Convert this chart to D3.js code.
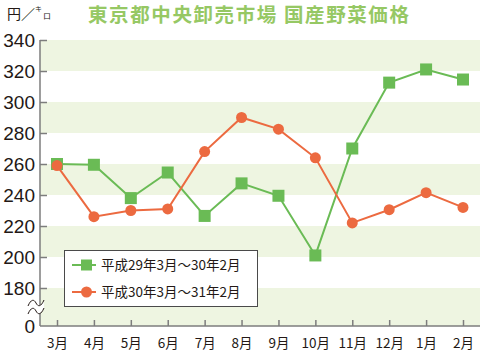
<!DOCTYPE html>
<html><head><meta charset="utf-8">
<script src="https://cdn.jsdelivr.net/npm/d3@7"></script>
<style>body{margin:0;background:#fff}svg{display:block}</style>
</head><body>
<svg id="c" width="480" height="353"></svg>
<script>
const months = ["3月","4月","5月","6月","7月","8月","9月","10月","11月","12月","1月","2月"];
const h29 = [260, 259.5, 238, 254.5, 226.5, 247.5, 239.5, 201, 270, 312.5, 321, 314.5];
const h30 = [259, 226, 230, 231, 268, 290, 282.5, 264, 222, 230.5, 241.5, 232];
const yTicks = [180, 200, 220, 240, 260, 280, 300, 320, 340];
const seriesNames = ["平成29年3月～30年2月", "平成30年3月～31年2月"];
const bands = [[320,340],[280,300],[240,260],[200,220]];

const svg = d3.select("#c");
const font = "'Noto Sans CJK JP','Liberation Sans',sans-serif";
const axisX = 40, baseY = 326, rightX = 480;
const x = d3.scalePoint().domain(months).range([57, 463]);
const y = d3.scaleLinear().domain([180, 340]).range([288, 40]);
const green = "#6abb55", orange = "#ec6a40", bandCol = "#eef5e1", axisCol = "#7d7d7d", txt = "#231815";

// bands
svg.selectAll("rect.band").data(bands).join("rect")
  .attr("x", axisX).attr("width", rightX - axisX)
  .attr("y", d => y(d[1])).attr("height", d => y(d[0]) - y(d[1]))
  .attr("fill", bandCol);
svg.append("rect").attr("x", axisX).attr("width", rightX - axisX)
  .attr("y", y(180)).attr("height", baseY - y(180)).attr("fill", bandCol);

// y axis
const yAxis = d3.axisLeft(y).tickValues(yTicks).tickSize(-7).tickPadding(12);
const gy = svg.append("g").attr("transform", `translate(${axisX},0)`).call(yAxis);
gy.select(".domain").remove();
gy.selectAll(".tick line").attr("stroke", axisCol).attr("stroke-width", 1.5);
gy.selectAll(".tick text").attr("font-family", "'Liberation Sans',Arial,sans-serif").attr("font-size", 19).attr("fill", txt).attr("dy", "0.35em").attr("x", -5);
svg.append("line").attr("x1", axisX).attr("x2", axisX).attr("y1", y(340)).attr("y2", baseY).attr("stroke", axisCol).attr("stroke-width", 1.5);
svg.append("text").attr("x", 35).attr("y", baseY).attr("dy", "0.35em").attr("text-anchor", "end")
  .attr("font-family", "'Liberation Sans',Arial,sans-serif").attr("font-size", 19).attr("fill", txt).text("0");

// break symbol
const wave = (yy) => `M28,${yy+3} C31,${yy-4} 34,${yy-4} 36,${yy} S41,${yy+4} 44,${yy-3}`;
svg.append("path").attr("d", `M28,306 C31,299 34,299 36,303 S41,307 44,300 L44,308 C41,315 38,315 36,311 S31,307 28,314 Z`).attr("fill", "#fff");
svg.append("path").attr("d", wave(303)).attr("fill", "none").attr("stroke", txt).attr("stroke-width", 1);
svg.append("path").attr("d", wave(311)).attr("fill", "none").attr("stroke", txt).attr("stroke-width", 1);

// x axis
const xAxis = d3.axisBottom(x).tickSize(-6).tickPadding(10);
const gx = svg.append("g").attr("transform", `translate(0,${baseY})`).call(xAxis);
gx.select(".domain").remove();
gx.selectAll(".tick line").attr("stroke", axisCol).attr("stroke-width", 1.5);
gx.selectAll(".tick text").attr("font-family", font).attr("font-size", 13.5).attr("fill", txt).attr("dy", "0.9em");
svg.append("line").attr("x1", axisX).attr("x2", rightX).attr("y1", baseY).attr("y2", baseY).attr("stroke", axisCol).attr("stroke-width", 1.5);

// lines
const line = d3.line().x((d, i) => x(months[i])).y(d => y(d));
svg.append("path").attr("d", line(h29)).attr("fill", "none").attr("stroke", green).attr("stroke-width", 2);
svg.append("path").attr("d", line(h30)).attr("fill", "none").attr("stroke", orange).attr("stroke-width", 2);
svg.selectAll("rect.m29").data(h29).join("rect").attr("class", "m29")
  .attr("x", (d, i) => x(months[i]) - 6).attr("y", d => y(d) - 6).attr("width", 12).attr("height", 12).attr("fill", green);
svg.selectAll("circle.m30").data(h30).join("circle").attr("class", "m30")
  .attr("cx", (d, i) => x(months[i])).attr("cy", d => y(d)).attr("r", 5.5).attr("fill", orange);

// legend
const lg = svg.append("g");
lg.append("rect").attr("x", 64.5).attr("y", 250.5).attr("width", 193).attr("height", 56).attr("fill", "#fff").attr("stroke", "#4a4a4a").attr("stroke-width", 1);
const rows = [265, 292];
[green, orange].forEach((c, i) => {
  lg.append("line").attr("x1", 72).attr("x2", 96).attr("y1", rows[i]).attr("y2", rows[i]).attr("stroke", c).attr("stroke-width", 2);
  if (i === 0) lg.append("rect").attr("x", 81).attr("y", rows[i] - 5.5).attr("width", 11).attr("height", 11).attr("fill", c);
  else lg.append("circle").attr("cx", 86.5).attr("cy", rows[i]).attr("r", 5.5).attr("fill", c);
  lg.append("text").attr("x", 101).attr("y", rows[i]).attr("dy", "0.36em").attr("font-family", font).attr("font-size", 13.5).attr("fill", txt).text(seriesNames[i]);
});

// title
svg.append("text").attr("x", 88).attr("y", 22).attr("font-family", font).attr("font-weight", "bold").attr("font-size", 19.5)
  .attr("letter-spacing", 1.6).attr("fill", "#96c864").text("東京都中央卸売市場 国産野菜価格");
// unit
const u = svg.append("text").attr("x", 7).attr("y", 19).attr("font-family", font).attr("font-size", 14).attr("fill", txt);
u.append("tspan").text("円／");
u.append("tspan").attr("font-size", 7).attr("dy", -8).text("キ");
u.append("tspan").attr("font-size", 8).attr("dy", 8).attr("dx", 1).text("ロ");
</script>
</body></html>
